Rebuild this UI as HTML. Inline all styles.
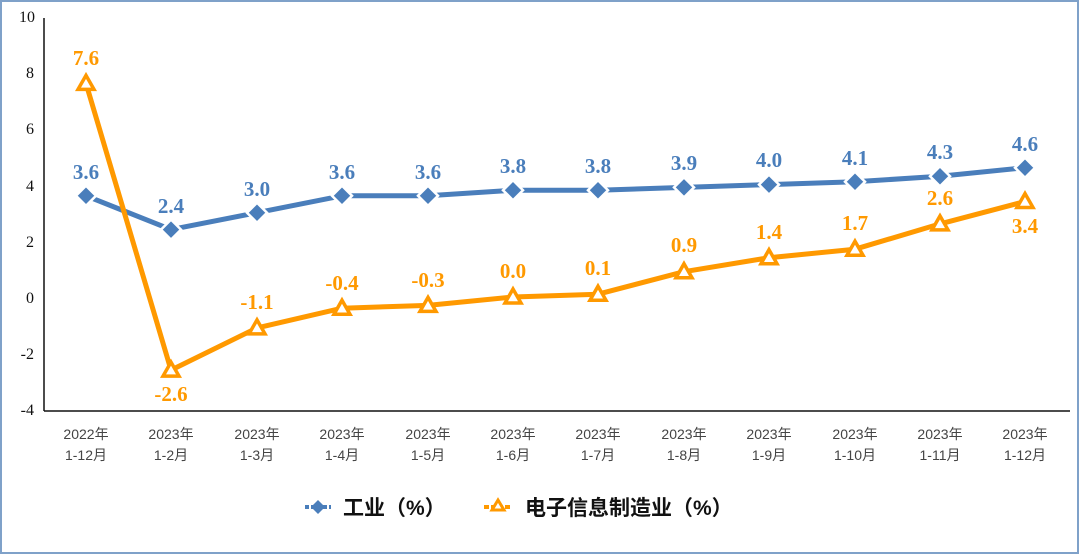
<!DOCTYPE html>
<html><head><meta charset="utf-8"><style>
html,body{margin:0;padding:0;background:#fff}
svg{display:block}
.lb{font-family:"Liberation Serif",serif;font-weight:bold;font-size:21px;text-anchor:middle}
.ax{font-family:"Liberation Serif",serif;font-size:16px;fill:#111;text-anchor:end}
.xl{font-family:"Liberation Sans","Noto Sans CJK SC",sans-serif;font-size:14px;fill:#444;text-anchor:middle}
.lg{font-family:"Liberation Sans","Noto Sans CJK SC",sans-serif;font-size:21px;font-weight:bold;fill:#111}
</style></head><body>
<svg width="1080" height="555" viewBox="0 0 1080 555" xmlns="http://www.w3.org/2000/svg">
<rect x="1" y="1" width="1077" height="552" fill="#fff" stroke="#7fa1c9" stroke-width="2"/>
<line x1="44" y1="18" x2="44" y2="411" stroke="#111" stroke-width="1.5"/>
<line x1="44" y1="411" x2="1070" y2="411" stroke="#111" stroke-width="1.5"/>
<g class="ax">
<text x="35" y="22">10</text><text x="34" y="78">8</text><text x="34" y="134">6</text><text x="34" y="191">4</text>
<text x="34" y="247">2</text><text x="34" y="303">0</text><text x="34" y="359">-2</text><text x="34" y="415">-4</text>
</g>
<g class="xl">
<text x="86" y="439">2022年</text><text x="86" y="460">1-12月</text>
<text x="171" y="439">2023年</text><text x="171" y="460">1-2月</text>
<text x="257" y="439">2023年</text><text x="257" y="460">1-3月</text>
<text x="342" y="439">2023年</text><text x="342" y="460">1-4月</text>
<text x="428" y="439">2023年</text><text x="428" y="460">1-5月</text>
<text x="513" y="439">2023年</text><text x="513" y="460">1-6月</text>
<text x="598" y="439">2023年</text><text x="598" y="460">1-7月</text>
<text x="684" y="439">2023年</text><text x="684" y="460">1-8月</text>
<text x="769" y="439">2023年</text><text x="769" y="460">1-9月</text>
<text x="855" y="439">2023年</text><text x="855" y="460">1-10月</text>
<text x="940" y="439">2023年</text><text x="940" y="460">1-11月</text>
<text x="1025" y="439">2023年</text><text x="1025" y="460">1-12月</text>
</g>
<polyline fill="none" stroke="#4a7ebb" stroke-width="5" stroke-linejoin="round" points="86,195.8 171,229.6 257,212.7 342,195.8 428,195.8 513,190.2 598,190.2 684,187.4 769,184.6 855,181.8 940,176.2 1025,167.7"/>
<polyline fill="none" stroke="#ff9900" stroke-width="5" stroke-linejoin="round" points="86,83.4 171,370.1 257,327.9 342,308.2 428,305.4 513,297 598,294.2 684,271.7 769,257.7 855,249.2 940,223.9 1025,201.5"/>
<g fill="#4a7ebb" stroke="#fff" stroke-width="2.5">
<path d="M86,185.8l10,10l-10,10l-10,-10z"/><path d="M171,219.6l10,10l-10,10l-10,-10z"/><path d="M257,202.7l10,10l-10,10l-10,-10z"/>
<path d="M342,185.8l10,10l-10,10l-10,-10z"/><path d="M428,185.8l10,10l-10,10l-10,-10z"/><path d="M513,180.2l10,10l-10,10l-10,-10z"/>
<path d="M598,180.2l10,10l-10,10l-10,-10z"/><path d="M684,177.4l10,10l-10,10l-10,-10z"/><path d="M769,174.6l10,10l-10,10l-10,-10z"/>
<path d="M855,171.8l10,10l-10,10l-10,-10z"/><path d="M940,166.2l10,10l-10,10l-10,-10z"/><path d="M1025,157.7l10,10l-10,10l-10,-10z"/>
</g>
<g fill="#fff" stroke="#ff9900" stroke-width="3.5" stroke-linejoin="miter">
<path d="M86,75.4l8,14h-16z"/><path d="M171,362.1l8,14h-16z"/><path d="M257,319.9l8,14h-16z"/>
<path d="M342,300.2l8,14h-16z"/><path d="M428,297.4l8,14h-16z"/><path d="M513,289l8,14h-16z"/>
<path d="M598,286.2l8,14h-16z"/><path d="M684,263.7l8,14h-16z"/><path d="M769,249.7l8,14h-16z"/>
<path d="M855,241.2l8,14h-16z"/><path d="M940,215.9l8,14h-16z"/><path d="M1025,193.5l8,14h-16z"/>
</g>
<g class="lb" fill="#4a7ebb">
<text x="86" y="179">3.6</text><text x="171" y="213">2.4</text><text x="257" y="196">3.0</text>
<text x="342" y="179">3.6</text><text x="428" y="179">3.6</text><text x="513" y="173">3.8</text>
<text x="598" y="173">3.8</text><text x="684" y="170">3.9</text><text x="769" y="167">4.0</text>
<text x="855" y="165">4.1</text><text x="940" y="159">4.3</text><text x="1025" y="151">4.6</text>
</g>
<g class="lb" fill="#ff9900">
<text x="86" y="65">7.6</text><text x="171" y="401">-2.6</text><text x="257" y="309">-1.1</text>
<text x="342" y="290">-0.4</text><text x="428" y="287">-0.3</text><text x="513" y="278">0.0</text>
<text x="598" y="275">0.1</text><text x="684" y="252">0.9</text><text x="769" y="239">1.4</text>
<text x="855" y="230">1.7</text><text x="940" y="205">2.6</text><text x="1025" y="233">3.4</text>
</g>
<line x1="305" y1="507" x2="331" y2="507" stroke="#4a7ebb" stroke-width="4" stroke-dasharray="4,2"/>
<path d="M318,500l7,7l-7,7l-7,-7z" fill="#4a7ebb"/>
<text class="lg" x="343" y="515">工业（%）</text>
<line x1="484" y1="507" x2="512" y2="507" stroke="#ff9900" stroke-width="4" stroke-dasharray="5,2"/>
<path d="M498,500l6,10h-12z" fill="#fff" stroke="#ff9900" stroke-width="3"/>
<text class="lg" x="525" y="515">电子信息制造业（%）</text>
</svg>
</body></html>
